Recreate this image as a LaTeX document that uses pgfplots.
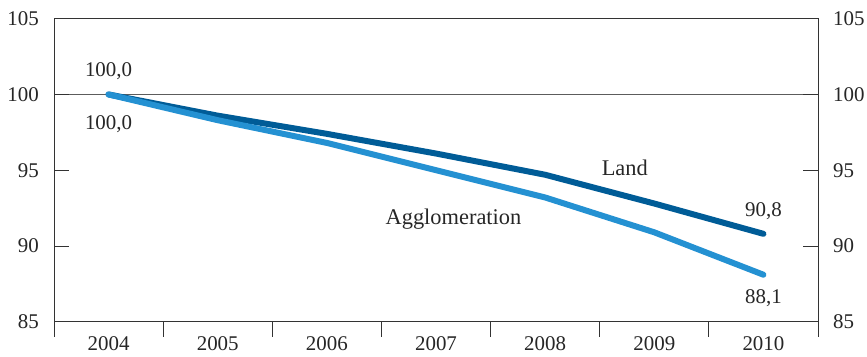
\documentclass[border=0pt]{standalone}
\usepackage{pgfplots}
\pgfplotsset{compat=1.18}
\usepackage{fontspec}
\setmainfont{Liberation Serif}
\definecolor{landc}{HTML}{005C97}
\definecolor{aggc}{HTML}{2491D2}
\definecolor{axc}{HTML}{333333}
\begin{document}
\begin{tikzpicture}
\useasboundingbox (-54bp,-35.3bp) rectangle (813bp,321.7bp);
\pgfplotsset{
  common/.style={
    width=764bp, height=303bp, scale only axis,
    xmin=-0.5, xmax=6.5, ymin=85, ymax=105,
    axis line style={draw=axc, line width=0.8bp},
    every tick/.style={draw=axc, line width=0.8bp},
    major tick length=15bp,
    tick label style={font=\fontsize{21}{25}\selectfont, text=black!85},
    /pgf/number format/assume math mode=true,
  }
}
% main axis with x ticks, data
\begin{axis}[common,
  xtick={-0.5,0.5,...,6.5}, xticklabels={},
  tick align=outside, xtick pos=bottom,
  ytick=\empty,
  extra x ticks={0,1,2,3,4,5,6},
  extra x tick labels={2004,2005,2006,2007,2008,2009,2010},
  extra x tick style={tick style={draw=none}, xticklabel style={inner sep=0pt, anchor=north}},
  clip=false,
]
\addplot[draw=axc!80, line width=0.8bp] coordinates {(-0.5,100) (6.5,100)};
\addplot[color=landc, line width=6bp, line cap=round, line join=round] coordinates {
  (0,100.0) (1,98.6) (2,97.4) (3,96.1) (4,94.7) (5,92.8) (6,90.8)};
\addplot[color=aggc, line width=6bp, line cap=round, line join=round] coordinates {
  (0,100.0) (1,98.3) (2,96.8) (3,95.0) (4,93.2) (5,90.9) (6,88.1)};
\begin{scope}[every node/.style={font=\fontsize{21}{25}\selectfont, text=black!85, inner sep=0pt, anchor=base}]
\node at (axis cs:0,101.16) {100,0};
\node at (axis cs:0,97.66) {100,0};
\node at (axis cs:6,91.93) {90,8};
\node at (axis cs:6,86.17) {88,1};
\node[font=\fontsize{22.5}{26}\selectfont] at (axis cs:4.73,94.62) {Land};
\node[font=\fontsize{22.5}{26}\selectfont] at (axis cs:3.16,91.42) {Agglomeration};
\end{scope}
\end{axis}
% left y axis
\begin{axis}[common,
  hide x axis, axis y line*=left,
  ytick={85,90,95,100,105}, tick align=inside,
  yticklabel style={inner sep=0pt, anchor=east, xshift=-15bp},
]
\end{axis}
% right y axis
\begin{axis}[common,
  hide x axis, axis y line*=right,
  ytick={85,90,95,100,105}, tick align=inside,
  yticklabel style={inner sep=0pt, anchor=west, xshift=15bp},
]
\end{axis}
\end{tikzpicture}
\end{document}
